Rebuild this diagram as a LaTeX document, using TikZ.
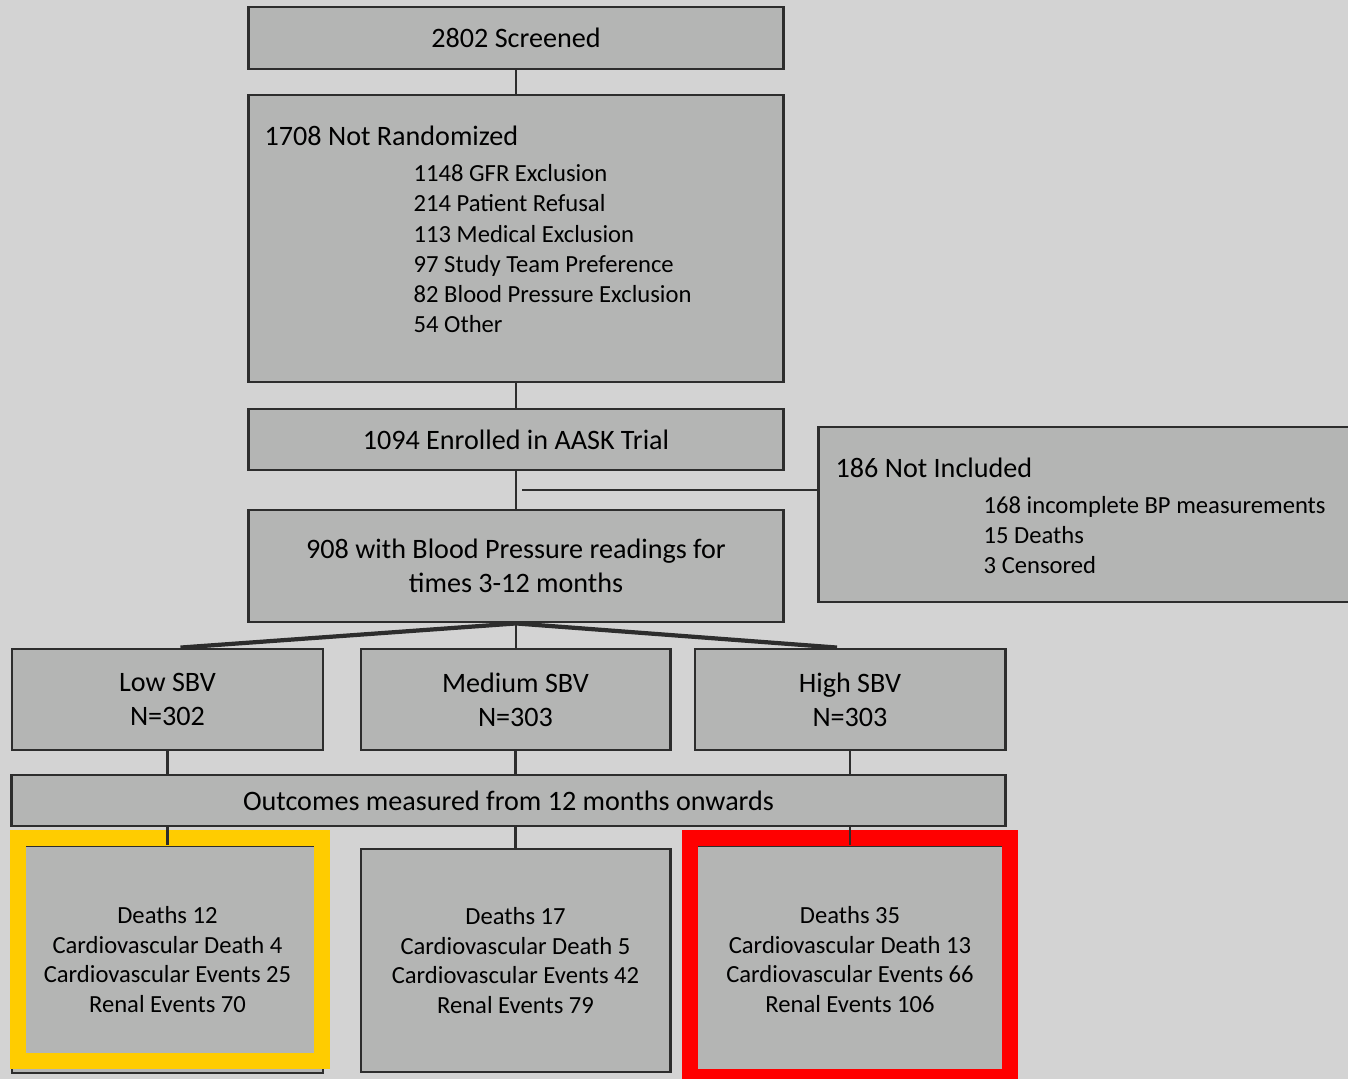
\documentclass[tikz,border=0pt]{standalone}
\usepackage{fontspec}
\setmainfont{Carlito}
\usetikzlibrary{calc}

\definecolor{bggray}{RGB}{211,211,211}
\definecolor{boxgray}{RGB}{180,181,180}
\definecolor{edgegray}{RGB}{45,45,45}
\definecolor{markyellow}{RGB}{255,204,0}
\definecolor{markred}{RGB}{255,0,0}

\tikzset{
  flowbox/.style={rectangle, draw=edgegray, fill=boxgray, line width=0.8pt, inner sep=0pt, align=center, font=\fontsize{8}{9.6}\selectfont},
  countbox/.style={flowbox, font=\fontsize{7}{8.5}\selectfont},
  titletext/.style={anchor=base west, inner sep=0pt, font=\fontsize{8}{9.6}\selectfont},
  itemtext/.style={anchor=base west, inner sep=0pt, font=\fontsize{7}{8.5}\selectfont},
}

\begin{document}
\begin{tikzpicture}[x=0.01cm, y=-0.01cm]
  \useasboundingbox[fill=bggray] (0,0) rectangle (1348,1079);

  \begin{scope}[every node/.style={flowbox}]
    \node [minimum width=5.34cm, minimum height=0.62cm] (screen) at (516,38) {2802 Screened};
    \node [minimum width=5.34cm, minimum height=2.87cm] (notrand) at (516,238.5) {};
    \node [minimum width=5.34cm, minimum height=0.61cm] (enrol) at (516,439.5) {1094 Enrolled in AASK Trial};
    \node [minimum width=5.34cm, minimum height=1.12cm] (bpread) at (516,566) {908 with Blood Pressure readings for\\times 3-12 months};
    \node [minimum width=5.41cm, minimum height=1.75cm] (notincl) at (1089.5,514.5) {};

    \node [minimum width=3.11cm, minimum height=1.01cm] (lowsbv) at (167.5,699.5) {Low SBV\\N=302};
    \node [minimum width=3.09cm, minimum height=1.01cm] (medsbv) at (515.5,699.5) {Medium SBV\\N=303};
    \node [minimum width=3.10cm, minimum height=1.01cm] (highsbv) at (850,699.5) {High SBV\\N=303};

    \node [minimum width=9.93cm, minimum height=0.51cm] (outcome) at (508.5,800.5) {Outcomes measured from 12 months onwards};
  \end{scope}

  \begin{scope}[every node/.style={countbox}]
    \node [minimum width=3.11cm, minimum height=2.27cm] (lowres) at (167.5,959.5) {Deaths 12\\Cardiovascular Death 4\\Cardiovascular Events 25\\Renal Events 70};
    \node [minimum width=3.09cm, minimum height=2.23cm] (medres) at (515.5,960.5) {Deaths 17\\Cardiovascular Death 5\\Cardiovascular Events 42\\Renal Events 79};
    \node [minimum width=3.10cm, minimum height=2.27cm] (highres) at (850,959.5) {Deaths 35\\Cardiovascular Death 13\\Cardiovascular Events 66\\Renal Events 106};
  \end{scope}

  % texts of the two exclusion boxes
  \node [titletext] (nrtitle) at (264,146) {1708 Not Randomized};
  \foreach \txt [count=\i] in {1148 GFR Exclusion, 214 Patient Refusal, 113 Medical Exclusion,
      97 Study Team Preference, 82 Blood Pressure Exclusion, 54 Other}
    \node [itemtext] (nritem\i) at (413,152+30*\i) {\txt};

  \node [titletext] (nititle) at (835,477) {186 Not Included};
  \foreach \txt [count=\i] in {168 incomplete BP measurements, 15 Deaths, 3 Censored}
    \node [itemtext] (niitem\i) at (983,483+30*\i) {\txt};

  % highlight frames
  \draw [markyellow, line width=0.16cm] (18,838) rectangle (322,1061);
  \draw [markred, line width=0.16cm] (690,838) rectangle (1010,1077);

  \begin{scope}[edgegray, line width=0.8pt]
    \draw (screen) -- (notrand);
    \draw (notrand) -- (enrol);
    \draw (enrol) -- (bpread);
    \coordinate (split) at (522,490);
    \draw (split) -- (split -| notincl.west);

    \draw (bpread.south) -- (bpread.south |- medsbv.north);
    \draw [line width=1.2pt] (bpread.south) -- ($(lowsbv.north)+(13,0)$);
    \draw [line width=1.2pt] (bpread.south) -- ($(highsbv.north)+(-13,0)$);

    \foreach \g in {low, med, high} {
      \draw (\g sbv.south) -- (\g sbv.south |- outcome.north);
      \draw (\g sbv.south |- outcome.south) -- (\g sbv.south |- \g res.north);
    }
  \end{scope}
\end{tikzpicture}
\end{document}
